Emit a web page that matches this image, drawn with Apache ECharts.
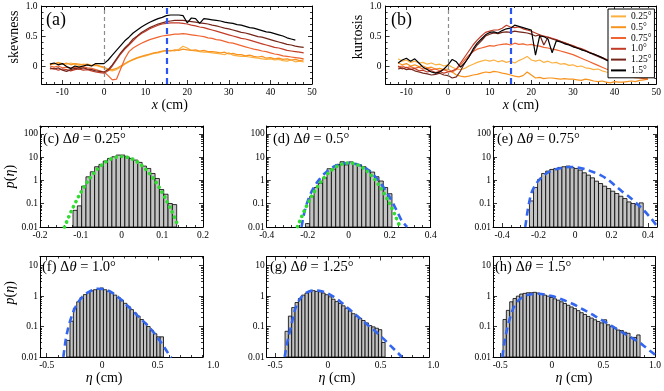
<!DOCTYPE html>
<html>
<head>
<meta charset="utf-8">
<script src="https://cdn.jsdelivr.net/npm/echarts@6.0.0/dist/echarts.min.js"></script>
<style>
html,body{margin:0;padding:0;background:#fff;}
#chart{width:664px;height:391px;}
</style>
</head>
<body>
<div id="chart"></div>
<script>
// ================= DATA =================
const angleLabels = ['0.25°','0.5°','0.75°','1.0°','1.25°','1.5°'];
const refLinesX = [0, 15];

// panel (a): skewness vs x (cm)
const skewX = [-13,-12,-11,-10,-9,-8,-7,-6,-5,-4,-3,-2,-1,0,1,2,3,4,5,6,7,8,9,10,11,12,13,14,15,16,17,18,19,20,21,22,23,24,25,26,27,28,29,30,31,32,33,34,35,36,37,38,39,40,41,42,43,44,45,46,47,48];
const skew025 = [0.04,0.03,0.06,0.04,0.03,0.05,0.03,0.01,0.03,0.02,0.0,0.01,-0.01,-0.03,-0.07,-0.08,-0.06,-0.02,0.03,0.07,0.1,0.13,0.15,0.17,0.19,0.21,0.22,0.24,0.25,0.26,0.25,0.28,0.33,0.3,0.26,0.25,0.24,0.23,0.23,0.22,0.21,0.2,0.19,0.22,0.18,0.17,0.16,0.16,0.15,0.14,0.13,0.12,0.11,0.12,0.1,0.11,0.09,0.08,0.1,0.07,0.08,0.07];
const skew05 = [0.02,0.04,0.05,0.03,0.05,0.02,0.04,0.03,0.02,0.03,0.01,0.02,0.0,-0.02,-0.05,-0.06,-0.04,0.0,0.04,0.08,0.11,0.14,0.16,0.18,0.2,0.22,0.23,0.25,0.26,0.25,0.27,0.26,0.28,0.27,0.26,0.27,0.25,0.26,0.24,0.24,0.23,0.22,0.23,0.2,0.21,0.19,0.19,0.17,0.18,0.16,0.15,0.16,0.13,0.14,0.12,0.13,0.11,0.12,0.1,0.11,0.09,0.1];
const skew075 = [0.0,-0.02,0.0,-0.03,-0.02,-0.04,-0.02,-0.03,-0.01,-0.03,-0.04,-0.06,-0.08,-0.1,-0.16,-0.23,-0.22,-0.05,0.12,0.24,0.3,0.34,0.38,0.41,0.44,0.46,0.48,0.5,0.51,0.52,0.53,0.53,0.54,0.53,0.52,0.51,0.5,0.49,0.47,0.46,0.44,0.43,0.41,0.39,0.38,0.36,0.34,0.32,0.3,0.28,0.27,0.25,0.24,0.22,0.2,0.19,0.17,0.16,0.15,0.14,0.13,0.12];
const skew10 = [-0.05,-0.04,-0.07,-0.05,-0.06,-0.08,-0.06,-0.05,-0.07,-0.06,-0.08,-0.1,-0.11,-0.12,-0.08,0.0,0.1,0.2,0.28,0.35,0.42,0.49,0.54,0.58,0.62,0.65,0.68,0.7,0.71,0.72,0.72,0.72,0.71,0.7,0.68,0.67,0.65,0.64,0.62,0.6,0.58,0.56,0.54,0.52,0.5,0.48,0.46,0.45,0.43,0.41,0.39,0.37,0.35,0.33,0.31,0.3,0.28,0.26,0.25,0.24,0.23,0.22];
const skew125 = [-0.03,-0.05,-0.03,-0.07,-0.09,-0.06,-0.04,-0.05,-0.03,-0.05,-0.06,-0.08,-0.09,-0.1,-0.06,0.02,0.12,0.22,0.3,0.37,0.45,0.5,0.56,0.6,0.64,0.67,0.7,0.72,0.74,0.75,0.76,0.76,0.76,0.75,0.74,0.73,0.72,0.71,0.7,0.68,0.67,0.65,0.63,0.62,0.6,0.58,0.56,0.55,0.53,0.51,0.49,0.48,0.46,0.44,0.42,0.4,0.38,0.36,0.35,0.33,0.32,0.31];
const skew15 = [0.03,0.05,0.02,0.04,-0.01,-0.04,0.0,-0.02,0.0,0.02,0.0,0.04,0.04,0.04,0.1,0.18,0.26,0.34,0.42,0.48,0.55,0.6,0.65,0.69,0.73,0.76,0.79,0.81,0.84,0.85,0.85,0.85,0.84,0.72,0.8,0.79,0.71,0.79,0.78,0.77,0.76,0.75,0.73,0.72,0.71,0.69,0.68,0.66,0.64,0.63,0.61,0.59,0.57,0.56,0.54,0.52,0.5,0.47,0.45,0.43,null,null];

// panel (b): kurtosis vs x (cm)
const kurtX = [-12,-11,-10,-9,-8,-7,-6,-5,-4,-3,-2,-1,0,1,2,3,4,5,6,7,8,9,10,11,12,13,14,15,16,17,18,19,20,21,22,23,24,25,26,27,28,29,30,31,32,33,34,35,36,37,38,39,40,41,42,43,44,45,46,47,48];
const kurt025 = [0.12,0.08,0.1,0.06,0.08,0.05,0.06,0.03,0.05,0.02,0.03,0.0,0.02,-0.02,-0.05,-0.06,-0.04,0.0,0.03,0.06,0.08,0.1,0.08,0.1,0.07,0.09,0.06,0.08,0.05,0.09,0.12,0.16,0.1,0.08,0.1,0.06,0.08,0.05,0.06,0.03,0.04,0.01,0.02,-0.01,0.0,-0.03,-0.04,-0.06,-0.05,-0.08,-0.1,-0.11,-0.13,-0.14,-0.16,-0.17,-0.18,-0.2,-0.19,-0.21,-0.2];
const kurt05 = [0.05,0.02,0.04,0.0,0.02,-0.01,0.0,-0.03,-0.02,-0.05,-0.04,-0.06,-0.05,-0.1,-0.15,-0.17,-0.18,-0.17,-0.15,-0.14,-0.12,-0.1,-0.11,-0.09,-0.1,-0.12,-0.13,-0.15,-0.17,-0.18,-0.16,-0.1,-0.15,-0.2,-0.19,-0.21,-0.2,-0.2,-0.21,-0.22,-0.21,-0.22,-0.22,-0.23,-0.24,-0.22,-0.23,-0.25,-0.26,-0.25,-0.27,-0.28,-0.26,-0.27,-0.27,-0.26,-0.25,-0.26,-0.24,-0.23,-0.22];
const kurt075 = [-0.02,0.0,-0.03,-0.01,-0.04,-0.02,-0.05,-0.04,-0.06,-0.05,-0.08,-0.06,-0.09,-0.1,-0.06,0.02,0.1,0.18,0.24,0.28,0.3,0.32,0.34,0.33,0.35,0.36,0.37,0.35,0.38,0.36,0.37,0.35,0.36,0.34,0.33,0.31,0.3,0.28,0.27,0.25,0.23,0.21,0.19,0.16,0.13,0.1,0.07,0.04,0.01,-0.02,-0.05,-0.07,-0.1,-0.12,-0.14,-0.16,-0.17,-0.19,-0.2,-0.21,-0.22];
const kurt10 = [0.0,-0.05,-0.02,-0.06,-0.04,-0.08,-0.07,-0.1,-0.08,-0.11,-0.09,-0.12,-0.1,-0.08,-0.05,0.05,0.15,0.25,0.35,0.43,0.5,0.56,0.58,0.6,0.6,0.63,0.68,0.65,0.64,0.65,0.62,0.6,0.58,0.55,0.52,0.5,0.48,0.46,0.44,0.41,0.39,0.36,0.34,0.31,0.29,0.26,0.23,0.2,0.17,0.14,0.11,0.08,0.05,0.02,-0.01,-0.04,-0.07,-0.1,-0.13,-0.16,-0.18];
const kurt125 = [-0.05,-0.03,-0.06,-0.05,-0.08,-0.1,-0.12,-0.13,-0.15,-0.14,-0.12,-0.15,-0.16,-0.2,-0.18,-0.08,0.05,0.15,0.25,0.35,0.42,0.5,0.53,0.55,0.54,0.56,0.57,0.56,0.58,0.57,0.56,0.55,0.53,0.5,0.52,0.35,0.48,0.45,0.43,0.41,0.38,0.36,0.33,0.3,0.28,0.25,0.22,0.19,0.16,0.13,0.1,0.07,0.04,0.01,-0.02,-0.05,-0.08,-0.1,-0.13,-0.15,-0.16];
const kurt15 = [0.05,0.1,0.13,0.08,0.12,0.05,-0.02,-0.06,-0.1,-0.12,-0.1,-0.05,0.02,0.11,0.07,-0.02,0.05,0.15,0.28,0.38,0.45,0.52,0.56,0.57,0.55,0.59,0.62,0.63,0.68,0.66,0.64,0.62,0.6,0.18,0.5,0.49,0.45,0.22,0.42,0.4,0.37,0.35,0.32,0.3,0.27,0.25,0.22,0.2,0.17,0.14,0.1,0.07,0.04,0.02,0.0,-0.03,-0.06,-0.08,-0.11,-0.15,null];

// histograms: bin start, bin width, p(eta) per bin
const binStartC = -0.119, binWidthC = 0.0106;
const countsC = [0.052,0.081,0.57,1.44,2.37,3.89,4.91,6.84,8.9,10.5,12.4,12.4,10.5,8.9,7.55,5.99,4.16,3.29,2.0,1.22,0.41,0.257,0.102,0.092];
const binStartD = -0.211, binWidthD = 0.0211;
const countsD = [0.014,0.21,0.5,0.75,1.3,3.2,3.1,4.9,6.4,4.7,6.3,5.4,4.7,3.9,2.8,2.3,1.45,0.95,0.5,0.27];
const binStartE = -0.25, binWidthE = 0.0223;
const countsE = [0.132,0.5,1.1,2.0,2.53,2.98,3.29,3.64,3.89,4.16,3.64,3.29,2.79,2.14,1.7,1.3,0.935,0.74,0.57,0.45,0.347,0.275,0.21,0.167,0.12,0.102,0.092,0.109];
const binStartF = -0.32, binWidthF = 0.03;
const countsF = [0.035,0.15,0.4,0.65,0.9,1.12,1.32,1.5,1.62,1.72,1.85,1.62,1.45,1.3,1.08,0.9,0.74,0.58,0.46,0.36,0.28,0.22,0.17,0.13,0.1,0.075,0.058,0.046,0.046];
const binStartG = -0.406, binWidthG = 0.0316;
const countsG = [0.07,0.22,0.42,0.615,0.836,1.08,1.26,1.43,1.51,1.43,1.39,1.26,1.11,0.95,0.79,0.66,0.57,0.48,0.40,0.325,0.264,0.22,0.185,0.158,0.132,0.108,0.0975,0.088,0.079,0.03];
const binStartH = -0.473, binWidthH = 0.0324;
const countsH = [0.171,0.34,0.65,0.836,1.0,1.17,1.23,1.29,1.29,1.33,1.26,1.2,1.08,1.0,0.9,0.815,0.735,0.65,0.57,0.5,0.44,0.388,0.333,0.285,0.25,0.215,0.19,0.167,0.147,0.132,0.167,0.114,0.1,0.09,0.077,0.074,0.065,0.06,0.044,0.044,0.053];

// Gaussian fits (green dots)
const gaussCx = [-0.14,-0.13,-0.12,-0.11,-0.1,-0.09,-0.08,-0.07,-0.06,-0.05,-0.04,-0.03,-0.02,-0.01,0,0.01,0.02,0.03,0.04,0.05,0.06,0.07,0.08,0.09,0.1,0.11,0.12,0.13,0.14];
const gaussCy = [0.0098,0.026,0.063,0.142,0.30,0.59,1.09,1.86,2.96,4.39,6.05,7.77,9.29,10.3,10.7,10.3,9.29,7.77,6.05,4.39,2.96,1.86,1.09,0.59,0.30,0.142,0.063,0.026,0.0098];
const gaussDx = [-0.25,-0.23,-0.21,-0.19,-0.17,-0.15,-0.13,-0.11,-0.09,-0.07,-0.05,-0.03,-0.01,0.01,0.03,0.05,0.07,0.09,0.11,0.13,0.15,0.17,0.19,0.21,0.23,0.25];
const gaussDy = [0.0103,0.027,0.066,0.148,0.305,0.583,1.03,1.67,2.50,3.45,4.40,5.17,5.61,5.61,5.17,4.40,3.45,2.50,1.67,1.03,0.583,0.305,0.148,0.066,0.027,0.0103];

// skewed fits (blue dashes)
const fitDx = [-0.23,-0.22,-0.21,-0.2,-0.18,-0.16,-0.14,-0.12,-0.1,-0.08,-0.06,-0.04,-0.02,0,0.02,0.04,0.06,0.08,0.1,0.12,0.14,0.16,0.18,0.2,0.22,0.24,0.26,0.285];
const fitDy = [0.01,0.03,0.07,0.13,0.35,0.7,1.2,1.9,2.7,3.6,4.4,5.1,5.5,5.6,5.4,5.0,4.3,3.5,2.6,1.8,1.15,0.68,0.37,0.19,0.09,0.04,0.018,0.01];
const fitEx = [-0.273,-0.26,-0.25,-0.24,-0.22,-0.2,-0.17,-0.14,-0.1,-0.06,-0.03,0,0.03,0.06,0.1,0.14,0.18,0.22,0.26,0.3,0.34,0.38,0.42,0.45];
const fitEy = [0.01,0.05,0.13,0.28,0.6,1.0,1.7,2.4,3.1,3.6,3.8,3.7,3.4,3.0,2.3,1.7,1.1,0.6,0.33,0.19,0.1,0.05,0.022,0.011];
const fitFx = [-0.35,-0.33,-0.31,-0.29,-0.27,-0.25,-0.22,-0.19,-0.16,-0.12,-0.08,-0.04,0,0.04,0.08,0.12,0.16,0.2,0.24,0.28,0.32,0.36,0.4,0.44,0.48,0.52,0.56,0.6,0.62];
const fitFy = [0.01,0.035,0.08,0.15,0.25,0.38,0.6,0.85,1.1,1.38,1.6,1.75,1.72,1.58,1.35,1.07,0.82,0.6,0.43,0.31,0.22,0.16,0.115,0.08,0.053,0.033,0.02,0.012,0.0095];
const fitGx = [-0.41,-0.39,-0.37,-0.35,-0.33,-0.31,-0.28,-0.25,-0.22,-0.18,-0.14,-0.1,-0.06,-0.02,0.02,0.06,0.1,0.14,0.18,0.22,0.26,0.3,0.34,0.38,0.42,0.46,0.5,0.54,0.58,0.62,0.66,0.7];
const fitGy = [0.01,0.025,0.05,0.1,0.2,0.38,0.65,0.95,1.2,1.42,1.52,1.52,1.45,1.3,1.12,0.92,0.74,0.57,0.43,0.33,0.25,0.19,0.145,0.11,0.085,0.065,0.048,0.036,0.026,0.019,0.014,0.01];
const fitHx = [-0.48,-0.46,-0.44,-0.42,-0.4,-0.37,-0.34,-0.3,-0.25,-0.2,-0.15,-0.1,-0.05,0,0.05,0.1,0.15,0.2,0.25,0.3,0.35,0.4,0.45,0.5,0.55,0.6,0.65,0.7,0.75,0.8,0.85,0.9,0.95,1.0];
const fitHy = [0.01,0.03,0.065,0.13,0.22,0.42,0.62,0.85,1.05,1.15,1.2,1.18,1.1,1.0,0.89,0.77,0.66,0.56,0.46,0.37,0.3,0.24,0.19,0.15,0.12,0.095,0.075,0.06,0.048,0.038,0.03,0.022,0.016,0.012];

// tick values
const ticksTopX = [-10,0,10,20,30,40,50];
const ticksTopY = [0,0.5,1.0];
const ticksC = [-0.2,-0.1,0,0.1,0.2];
const ticksD = [-0.4,-0.2,0,0.2,0.4];
const ticksE = [-0.4,-0.2,0,0.2,0.4];
const ticksRow2 = [-0.5,0,0.5,1.0];
const logTicksRow1 = [0.01,0.1,1,10,100];
const logTicksRow2 = [0.01,0.1,1,10];

// ================= STYLE / BUILD =================
const FONT = '"Liberation Serif","Times New Roman",Times,serif';
const K = '#000';
const lineColors = ['#fbb040','#f7931e','#ef6430','#c23b27','#74261a','#000000'];
const greenDots = '#2fdc2f';
const blueDash = '#3366f0';
const barFill = '#c3c3c3';

const grids = [], xAxes = [], yAxes = [], series = [], titles = [];
function addGrid(r){ grids.push({left:r[0], top:r[1], width:r[2], height:r[3], containLabel:false, show:false}); return grids.length-1; }
function tk(len, vals){ const o = {show:true, inside:true, length:len, lineStyle:{color:K, width:0.8}}; if (vals) o.customValues = vals; return o; }
const AXL = {show:true, onZero:false, lineStyle:{color:K, width:1}};
const NOAXL = {show:false, onZero:false};
const fmtLin = v => { const s = String(+(+v).toFixed(3)); return s === '1' ? '1.0' : s; };
const fmtLog = v => String(+(+v).toPrecision(6));
function labelCfg(vals, margin, fmt){ return {show:true, customValues:vals, margin:margin, color:K, fontFamily:FONT, fontSize:9.5, formatter:fmt}; }
function nameStyle(size, pad){ const o = {color:K, fontFamily:FONT, fontSize:size, rich:{i:{fontStyle:'italic', fontFamily:FONT, fontSize:size, color:K}}}; if (pad) o.padding = pad; return o; }
const minorTk = n => ({show:true, splitNumber:n, length:2, lineStyle:{color:K, width:0.8}});

function linXPair(g, min, max, split, minor, tickVals, showLabels, extra){
  const base = {gridIndex:g, type:'value', min, max, splitNumber:split, splitLine:{show:false}, minorTick:minorTk(minor), minorSplitLine:{show:false}, axisLine:AXL};
  const i = xAxes.length;
  xAxes.push(Object.assign({}, base, {position:'bottom', axisTick:tk(4, tickVals), axisLabel: showLabels ? labelCfg(tickVals, 3, fmtLin) : {show:false}}, extra || {}));
  xAxes.push(Object.assign({}, base, {position:'top', axisTick:tk(4, tickVals), axisLabel:{show:false}}));
  return i;
}
function linYPair(g, min, max, split, minor, tickVals, extra){
  const base = {gridIndex:g, type:'value', min, max, splitNumber:split, splitLine:{show:false}, minorTick:minorTk(minor), minorSplitLine:{show:false}, axisLine:AXL};
  const i = yAxes.length;
  yAxes.push(Object.assign({}, base, {position:'left', axisTick:tk(4, tickVals), axisLabel:labelCfg(tickVals, 4, fmtLin)}, extra || {}));
  yAxes.push(Object.assign({}, base, {position:'right', axisTick:tk(4, tickVals), axisLabel:{show:false}}));
  return i;
}
function logMinors(max){ const out = []; for (let d = 0.01; d < max; d *= 10) { for (let m = 2; m <= 9; m++) { const v = +(d*m).toPrecision(6); if (v < max) out.push(v); } } return out; }
function logYSet(g, max, tickVals, extra){
  const base = {gridIndex:g, type:'log', logBase:10, min:0.01, max, splitLine:{show:false}, minorTick:{show:false}};
  const minors = logMinors(max);
  const i = yAxes.length;
  yAxes.push(Object.assign({}, base, {position:'left', axisLine:AXL, axisTick:tk(4, tickVals), axisLabel:labelCfg(tickVals, 2, fmtLog)}, extra || {}));
  yAxes.push(Object.assign({}, base, {position:'left', axisLine:NOAXL, axisTick:tk(2, minors), axisLabel:{show:false}}));
  yAxes.push(Object.assign({}, base, {position:'right', axisLine:AXL, axisTick:tk(4, tickVals), axisLabel:{show:false}}));
  yAxes.push(Object.assign({}, base, {position:'right', axisLine:NOAXL, axisTick:tk(2, minors), axisLabel:{show:false}}));
  return i;
}
function addTitle(text, left, top, size){
  titles.push({text, left, top, padding:0, textStyle:{fontFamily:FONT, fontSize:size, fontWeight:'normal', color:K, rich:{i:{fontStyle:'italic', fontFamily:FONT, fontSize:size, color:K}}}});
}
function addLines(xs, ysList, xi, yi){
  ysList.forEach((ys, k) => {
    const s = {type:'line', name:angleLabels[k], xAxisIndex:xi, yAxisIndex:yi, data:xs.map((x, j) => [x, ys[j]]),
      showSymbol:false, symbol:'none', lineStyle:{color:lineColors[k], width:1.2}, itemStyle:{color:lineColors[k]},
      silent:true, animation:false, connectNulls:false};
    if (k === 0) {
      s.markLine = {silent:true, symbol:['none','none'], label:{show:false}, animation:false,
        data:[{xAxis:refLinesX[0], lineStyle:{color:'#8c8c8c', type:[4,3], width:1.2}},
              {xAxis:refLinesX[1], lineStyle:{color:'#2a55f5', type:[6,4], width:2.2}}]};
    }
    series.push(s);
  });
}
function addHist(xi, yi, start, width, counts, base){
  const data = counts.map((c, i) => [start + i*width, start + (i+1)*width, c]);
  series.push({type:'custom', xAxisIndex:xi, yAxisIndex:yi, silent:true, animation:false, data, encode:{x:[0,1], y:2}, z:2,
    renderItem:(params, api) => {
      const a = api.coord([api.value(0), api.value(2)]);
      const b = api.coord([api.value(1), base]);
      return {type:'rect', shape:{x:a[0], y:a[1], width:b[0]-a[0], height:b[1]-a[1]}, style:{fill:barFill, stroke:K, lineWidth:0.8}};
    }});
}
function addCurve(xi, yi, xs, ys, style){
  series.push({type:'line', xAxisIndex:xi, yAxisIndex:yi, data:xs.map((x, j) => [x, ys[j]]), showSymbol:false, symbol:'none', smooth:0.3,
    lineStyle:style, silent:true, animation:false, z:3});
}
const dotStyle = {color:greenDots, width:3.6, type:[0.1,5.5], cap:'round'};
const dashStyle = {color:blueDash, width:2.6, type:[7,4.5]};
function labelAxis(rect, min, max, name, pad){
  const g = addGrid(rect);
  xAxes.push({gridIndex:g, type:'value', min, max, position:'bottom', axisLine:{show:false, onZero:false}, axisTick:{show:false}, splitLine:{show:false},
    axisLabel:labelCfg(ticksRow2, 3, fmtLin), name, nameLocation:'middle', nameGap:13, nameTextStyle:nameStyle(14, pad)});
  yAxes.push({gridIndex:g, type:'value', show:false});
}

// ---- (a)
const gA = addGrid([41.6, 6, 270.4, 78]);
const xA = linXPair(gA, -15, 50, 6, 5, ticksTopX, true, {name:'{i|x} (cm)', nameLocation:'middle', nameGap:14, nameTextStyle:nameStyle(14, [0,14,0,0])});
const yA = linYPair(gA, -0.3, 1.0, 2, 5, ticksTopY, {name:'skewness', nameLocation:'middle', nameGap:19, nameRotate:90, nameTextStyle:nameStyle(14, [0,0,0,16])});
addLines(skewX, [skew025, skew05, skew075, skew10, skew125, skew15], xA, yA);
addTitle('(a)', 46, 11, 18);

// ---- (b)
const gB = addGrid([385.6, 6, 271, 78]);
const xB = linXPair(gB, -15, 50, 6, 5, ticksTopX, true, {name:'{i|x} (cm)', nameLocation:'middle', nameGap:14, nameTextStyle:nameStyle(14)});
const yB = linYPair(gB, -0.3, 1.0, 2, 5, ticksTopY, {name:'kurtosis', nameLocation:'middle', nameGap:18, nameRotate:90, nameTextStyle:nameStyle(14, [0,0,0,16])});
addLines(kurtX, [kurt025, kurt05, kurt075, kurt10, kurt125, kurt15], xB, yB);
addTitle('(b)', 391, 11, 18);

// ---- (c)
const gC = addGrid([40, 126, 163, 101]);
const xC = linXPair(gC, -0.2, 0.2, 4, 5, ticksC, true);
const yC = logYSet(gC, 220, logTicksRow1, {name:'{i|p}({i|η})', nameLocation:'middle', nameGap:22, nameRotate:90, nameTextStyle:nameStyle(14)});
addHist(xC, yC, binStartC, binWidthC, countsC, 0.01);
addCurve(xC, yC, gaussCx, gaussCy, dotStyle);
addTitle('(c) Δ{i|θ} = 0.25°', 43, 132, 14.5);

// ---- (d)
const gD = addGrid([266.7, 126, 164, 101]);
const xD = linXPair(gD, -0.4, 0.4, 4, 5, ticksD, true);
const yD = logYSet(gD, 220, logTicksRow1);
addHist(xD, yD, binStartD, binWidthD, countsD, 0.01);
addCurve(xD, yD, fitDx, fitDy, dashStyle);
addCurve(xD, yD, gaussDx, gaussDy, dotStyle);
addTitle('(d) Δ{i|θ} = 0.5°', 273, 132, 14.5);

// ---- (e)
const gE = addGrid([493, 126, 164, 101]);
const xE = linXPair(gE, -0.45, 0.45, 4, 4, ticksE, true);
const yE = logYSet(gE, 220, logTicksRow1);
addHist(xE, yE, binStartE, binWidthE, countsE, 0.01);
addCurve(xE, yE, fitEx, fitEy, dashStyle);
addTitle('(e) Δ{i|θ} = 0.75°', 497, 132, 14.5);

// ---- (f)
const gF = addGrid([40, 256.5, 163, 100.5]);
const xF = linXPair(gF, -0.56, 0.905, 3, 5, [-0.5,0,0.5], false);
const yF = logYSet(gF, 20, logTicksRow2, {name:'{i|p}({i|η})', nameLocation:'middle', nameGap:22, nameRotate:90, nameTextStyle:nameStyle(14, [0,0,0,28])});
addHist(xF, yF, binStartF, binWidthF, countsF, 0.01);
addCurve(xF, yF, fitFx, fitFy, dashStyle);
labelAxis([40, 256.5, 173.2, 100.5], -0.56, 1.0, '{i|η} (cm)', [0,45,0,0]);
addTitle('(f) Δ{i|θ} = 1.0°', 42, 260, 14.5);

// ---- (g)
const gG = addGrid([266.7, 256.5, 162.5, 100.5]);
const xG = linXPair(gG, -0.58, 0.96, 3, 5, [-0.5,0,0.5], false);
const yG = logYSet(gG, 20, logTicksRow2);
addHist(xG, yG, binStartG, binWidthG, countsG, 0.01);
addCurve(xG, yG, fitGx, fitGy, dashStyle);
labelAxis([266.7, 256.5, 166.7, 100.5], -0.58, 1.0, '{i|η} (cm)', [0,26,0,0]);
addTitle('(g) Δ{i|θ} = 1.25°', 270, 260, 14.5);

// ---- (h)
const gH = addGrid([493, 256.5, 162, 100.5]);
const xH = linXPair(gH, -0.57, 1.0, 3, 5, [-0.5,0,0.5,1.0], false);
const yH = logYSet(gH, 20, logTicksRow2);
addHist(xH, yH, binStartH, binWidthH, countsH, 0.01);
addCurve(xH, yH, fitHx, fitHy, dashStyle);
labelAxis([493, 256.5, 162, 100.5], -0.57, 1.0, '{i|η} (cm)', null);
addTitle('(h) Δ{i|θ} = 1.5°', 495, 260, 14.5);

const option = {
  backgroundColor:'#fff',
  animation:false,
  textStyle:{fontFamily:FONT},
  title:titles,
  legend:{data:angleLabels, orient:'vertical', left:608, top:9, padding:[2,3,2,3], itemGap:0, itemWidth:15, itemHeight:2,
    icon:'rect', backgroundColor:'#fff', borderColor:K, borderWidth:1, borderRadius:0, selectedMode:false,
    textStyle:{fontFamily:FONT, fontSize:9.5, color:K, lineHeight:10.8}},
  grid:grids, xAxis:xAxes, yAxis:yAxes, series
};
const chart = echarts.init(document.getElementById('chart'), null, {renderer:'canvas'});
chart.setOption(option);
</script>
</body>
</html>
